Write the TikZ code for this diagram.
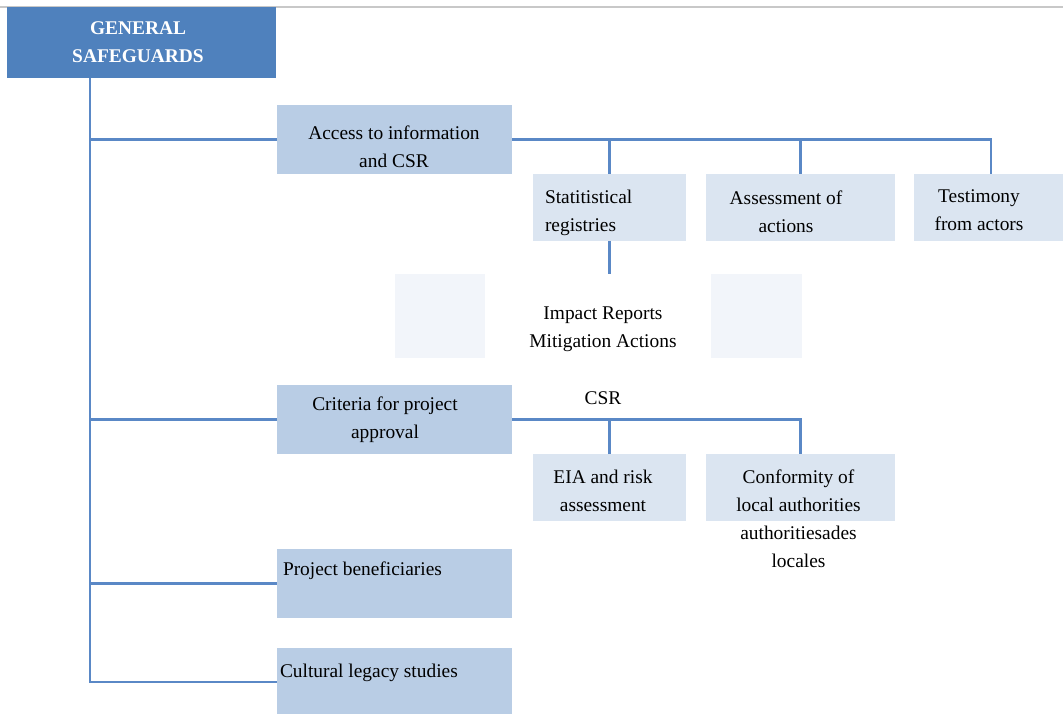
\documentclass[tikz,border=0pt]{standalone}
\usepackage{fontspec}
\setmainfont{Liberation Serif}
\definecolor{headblue}{HTML}{4F81BD}
\definecolor{midblue}{HTML}{B9CDE5}
\definecolor{paleblue}{HTML}{DBE5F1}
\definecolor{faintblue}{HTML}{F2F5FA}
\definecolor{linkblue}{HTML}{5A88C6}
\definecolor{rulegray}{HTML}{C8C8C8}
\tikzset{
  every node/.style={inner sep=0pt, outer sep=0pt},
  headbox/.style={fill=headblue},
  mainbox/.style={fill=midblue},
  subbox/.style={fill=paleblue},
  ghostbox/.style={fill=faintblue},
  txt/.style={font=\fontsize{19.4}{28}\selectfont, text=black, align=center},
  headtxt/.style={font=\fontsize{19.4}{28}\selectfont\bfseries, text=white, align=center},
  conn/.style={draw=linkblue, line width=2.2pt},
}
\begin{document}
\begin{tikzpicture}[x=1pt,y=-1pt]
\useasboundingbox (0,0) rectangle (1063,714);
% thin rule along the top edge
\draw[rulegray, line width=1.2pt] (0,7) -- (1063,7);

% boxes
\node[headbox, minimum width=269pt, minimum height=71pt] (gen) at (141.5,42.5) {};
\node[mainbox, minimum width=235pt, minimum height=69pt] (acc) at (394.5,139.5) {};
\node[mainbox, minimum width=235pt, minimum height=69pt] (crit) at (394.5,419.5) {};
\node[mainbox, minimum width=235pt, minimum height=69pt] (pb) at (394.5,583.5) {};
\node[mainbox, minimum width=235pt, minimum height=68pt] (cult) at (394.5,682) {};
\node[subbox, minimum width=153pt, minimum height=67pt] (stat) at (609.5,207.5) {};
\node[subbox, minimum width=189pt, minimum height=67pt] (assess) at (800.5,207.5) {};
\node[subbox, minimum width=149pt, minimum height=67pt] (test) at (988.5,207.5) {};
\node[ghostbox, minimum width=90pt, minimum height=84pt] (ghostl) at (440,316) {};
\node[ghostbox, minimum width=91pt, minimum height=84pt] (ghostr) at (756.5,316) {};
\node[subbox, minimum width=153pt, minimum height=67pt] (eia) at (609.5,487.5) {};
\node[subbox, minimum width=189pt, minimum height=67pt] (conf) at (800.5,487.5) {};

% connector anchors
\coordinate (trunk) at (90,0);
\coordinate (testdrop) at (991,0);
\coordinate (statend) at (609.5,274);

% trunk and first-level branches
\draw[conn] (gen.south -| trunk) |- (cult.west);
\draw[conn] (trunk |- acc.west) -- (acc.west);
\draw[conn] (trunk |- crit.west) -- (crit.west);
\draw[conn] (trunk |- pb.west) -- (pb.west);

% branches under access to information
\draw[conn] (acc.east) -| (testdrop |- test.north);
\draw[conn] (stat.north) -- (stat.north |- acc.east);
\draw[conn] (assess.north) -- (assess.north |- acc.east);
\draw[conn] (stat.south) -- (statend);

% branches under project approval criteria
\draw[conn] (crit.east) -| (conf.north);
\draw[conn] (eia.north) -- (eia.north |- crit.east);

% texts
\node[headtxt] (gentxt) at (138,42) {GENERAL\\SAFEGUARDS};
\node[txt] (acctxt) at (394,146.5) {Access to information\\and CSR};
\node[txt, align=left, anchor=west] (stattxt) at (545,212.5) {Statitistical\\registries};
\node[txt] (assesstxt) at (786,212) {Assessment of\\actions};
\node[txt] (testtxt) at (979,210.5) {Testimony\\from actors};
\node[txt] (impacttxt) at (603,329.5) {Impact Reports\\Mitigation Actions};
\node[txt] (crittxt) at (385,420) {Criteria for project\\approval};
\node[txt] (csrtxt) at (603,398.5) {CSR};
\node[txt] (eiatxt) at (603,491) {EIA and risk\\assessment};
\node[txt] (conftxt) at (798.5,518.5) {Conformity of\\local authorities\\authoritiesades\\locales};
\node[txt, anchor=west] (pbtxt) at (283,571) {Project beneficiaries};
\node[txt, anchor=west] (culttxt) at (280,673) {Cultural legacy studies};
\end{tikzpicture}
\end{document}
